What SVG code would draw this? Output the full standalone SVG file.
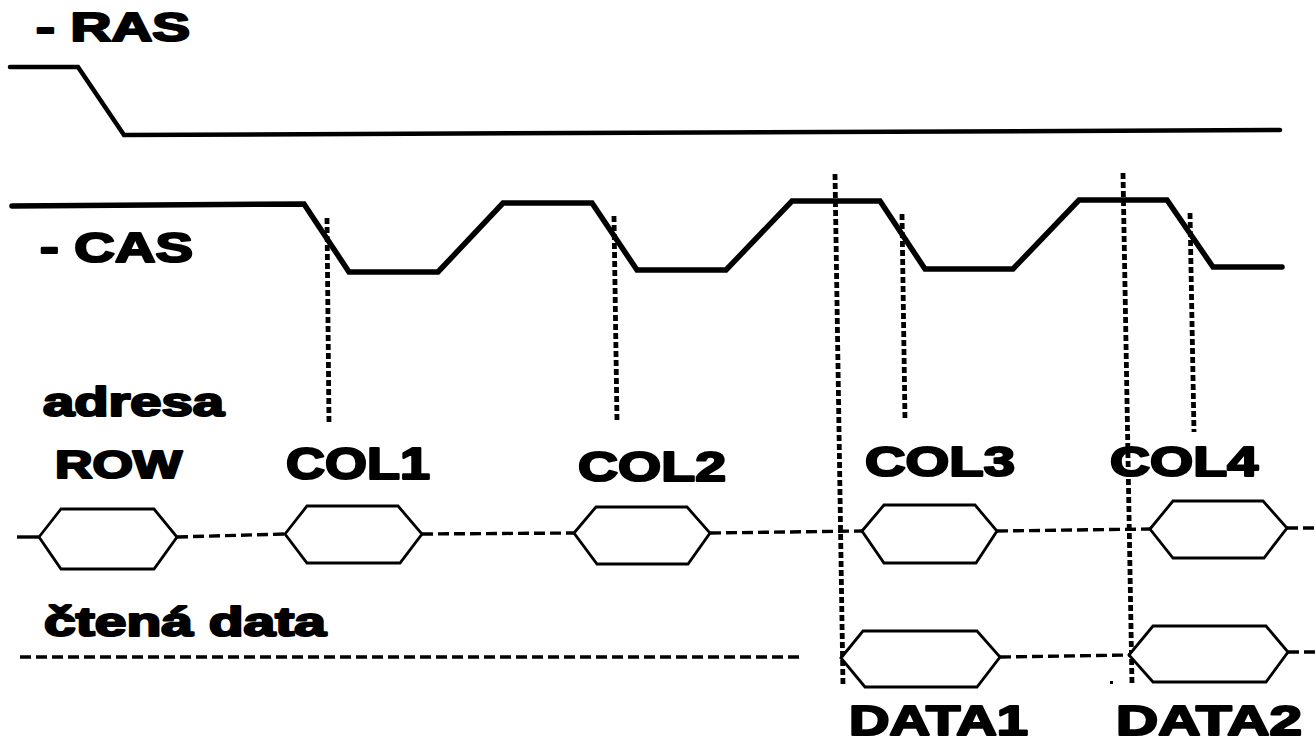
<svg xmlns="http://www.w3.org/2000/svg" width="1316" height="744" viewBox="0 0 1316 744">
<style>
.lbl{font-family:"Liberation Sans",Arial,sans-serif;font-weight:bold;fill:#000;stroke:#000;stroke-width:2.2;stroke-linejoin:round}
.wave{fill:none;stroke:#000;stroke-linejoin:miter;stroke-linecap:round}
.hex{fill:#fff;stroke:#000;stroke-width:2.8;stroke-linejoin:miter}
.dash{fill:none;stroke:#000;stroke-width:3.4;stroke-dasharray:11 5}
.dot{fill:none;stroke:#000;stroke-width:4.8;stroke-dasharray:6 3}
</style>
<rect width="1316" height="744" fill="#fff"/>
<g id="signals">
<text class="lbl" x="36" y="41" font-size="40" textLength="154" lengthAdjust="spacingAndGlyphs">- RAS</text>
<path id="ras-wave" class="wave" stroke-width="4.5" d="M10,67 L78,67 L124,135 L1280,130"/>
<path id="cas-wave" class="wave" stroke-width="5.5" d="M12,206 L304,204 L349,272 L438,272 L503,203 L592,203 L637,270 L726,270 L792,201 L880,201 L925,269 L1013,269 L1079,200 L1167,200 L1213,267 L1282,267"/>
<text class="lbl" x="40" y="262" font-size="42" textLength="153" lengthAdjust="spacingAndGlyphs">- CAS</text>
<text class="lbl" x="43" y="416" font-size="40" textLength="181" lengthAdjust="spacingAndGlyphs">adresa</text>
<text class="lbl" x="44" y="636" font-size="40" textLength="282" lengthAdjust="spacingAndGlyphs">čtená data</text>
</g>
<g id="connectors">
<path class="dot" d="M327,218 L329,423"/>
<path class="dot" d="M614,216 L617,422"/>
<path class="dot" d="M902,214 L905,420"/>
<path class="dot" d="M1190,213 L1194,432"/>
<path class="dot" d="M835,174 L843,686"/>
<path class="dot" d="M1123,173 L1132,684"/>
<path fill="none" stroke="#000" stroke-width="3.4" d="M17,537 L39,537"/>
<path class="dash" d="M177,537 L285,534"/>
<path class="dash" d="M422,534 L574,533"/>
<path class="dash" d="M710,533 L862,531"/>
<path class="dash" d="M997,531 L1150,529"/>
<path class="dash" d="M1287,528 L1316,528"/>
<path class="dash" d="M20,657 L800,657"/>
<path class="dash" d="M1000,657 L1129,655"/>
<path class="dash" d="M1288,652 L1316,652"/>
<rect x="1110" y="681" width="3" height="3" fill="#000"/>
</g>
<g id="row">
<polygon class="hex" points="39,537 61,509 154,509 177,537 154,569 61,569"/>
<text class="lbl" x="55" y="478" font-size="38" textLength="127" lengthAdjust="spacingAndGlyphs">ROW</text>
</g>
<g id="col1">
<polygon class="hex" points="285,534 307,506 398,506 422,534 400,563 307,563"/>
<text class="lbl" x="286" y="479" font-size="44" textLength="144" lengthAdjust="spacingAndGlyphs">COL1</text>
</g>
<g id="col2">
<polygon class="hex" points="574,533 596,507 687,507 710,533 688,564 597,564"/>
<text class="lbl" x="578" y="481" font-size="43" textLength="148" lengthAdjust="spacingAndGlyphs">COL2</text>
</g>
<g id="col3">
<polygon class="hex" points="862,531 884,505 975,505 997,531 976,563 884,563"/>
<text class="lbl" x="865" y="476" font-size="42" textLength="150" lengthAdjust="spacingAndGlyphs">COL3</text>
</g>
<g id="col4">
<polygon class="hex" points="1150,529 1173,501 1263,501 1287,528 1264,558 1173,558"/>
<text class="lbl" x="1110" y="476" font-size="42" textLength="148" lengthAdjust="spacingAndGlyphs">COL4</text>
</g>
<g id="data1">
<polygon class="hex" points="841,658 863,631 977,631 1000,657 977,687 865,687"/>
<text class="lbl" x="849" y="735" font-size="43" textLength="179" lengthAdjust="spacingAndGlyphs">DATA1</text>
</g>
<g id="data2">
<polygon class="hex" points="1129,655 1153,626 1266,626 1288,652 1266,682 1153,682"/>
<text class="lbl" x="1116" y="735" font-size="43" textLength="186" lengthAdjust="spacingAndGlyphs">DATA2</text>
</g>
</svg>
